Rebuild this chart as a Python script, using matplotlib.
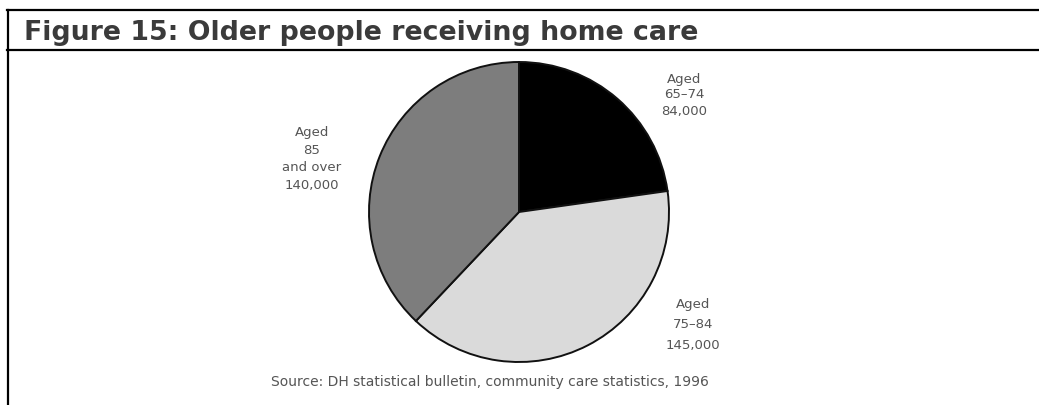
import matplotlib
matplotlib.use("Agg")
import matplotlib.pyplot as plt
from matplotlib.lines import Line2D

# home care recipients by age band
groups = ["65–74", "75–84", "85\nand over"]
recipients = [84000, 145000, 140000]
colours = ["#000000", "#dadada", "#7d7d7d"]

W, H = 1039, 405
fig = plt.figure(figsize=(W / 100, H / 100), dpi=100)
fig.patch.set_facecolor("white")


def px(x, y):
    # pixel position (from top-left) to figure fraction
    return x / W, 1 - y / H


# heading box
for (x0, y0), (x1, y1) in [((7, 10), (W, 10)), ((7, 50), (W, 50)), ((7.5, 10), (7.5, H))]:
    a, b = px(x0, y0)
    c, d = px(x1, y1)
    fig.add_artist(Line2D([a, c], [b, d], transform=fig.transFigure,
                          color="black", lw=1.6))

tx, ty = px(24, 40)
fig.text(tx, ty, "Figure 15: Older people receiving home care", family="DejaVu Sans",
         weight="bold", size=19.3, color="#3a3a3a", va="baseline", ha="left")

# pie: centre (519, 212) px, radius 150 px
r = 150
left, bottom = (519 - r) / W, (H - 212 - r) / H
ax = fig.add_axes([left, bottom, 2 * r / W, 2 * r / H])
ax.pie(recipients, colors=colours, startangle=90, counterclock=False, radius=1,
       wedgeprops=dict(edgecolor="#111111", linewidth=1.4))
ax.set_xlim(-1, 1)
ax.set_ylim(-1, 1)
ax.set_aspect("equal")
ax.axis("off")

label_pos = [(684, 95), (693, 325), (312, 159)]
spacing = [1.3, 1.75, 1.45]
for g, v, (x, y), ls in zip(groups, recipients, label_pos, spacing):
    fx, fy = px(x, y)
    fig.text(fx, fy, f"Aged\n{g}\n{v:,}", family="DejaVu Sans", size=9.5,
             color="#555555", ha="center", va="center", linespacing=ls)

sx, sy = px(490, 382)
fig.text(sx, sy, "Source: DH statistical bulletin, community care statistics, 1996",
         family="DejaVu Sans", size=10, color="#555555", ha="center", va="center")

fig.savefig("out.png", dpi=100)
